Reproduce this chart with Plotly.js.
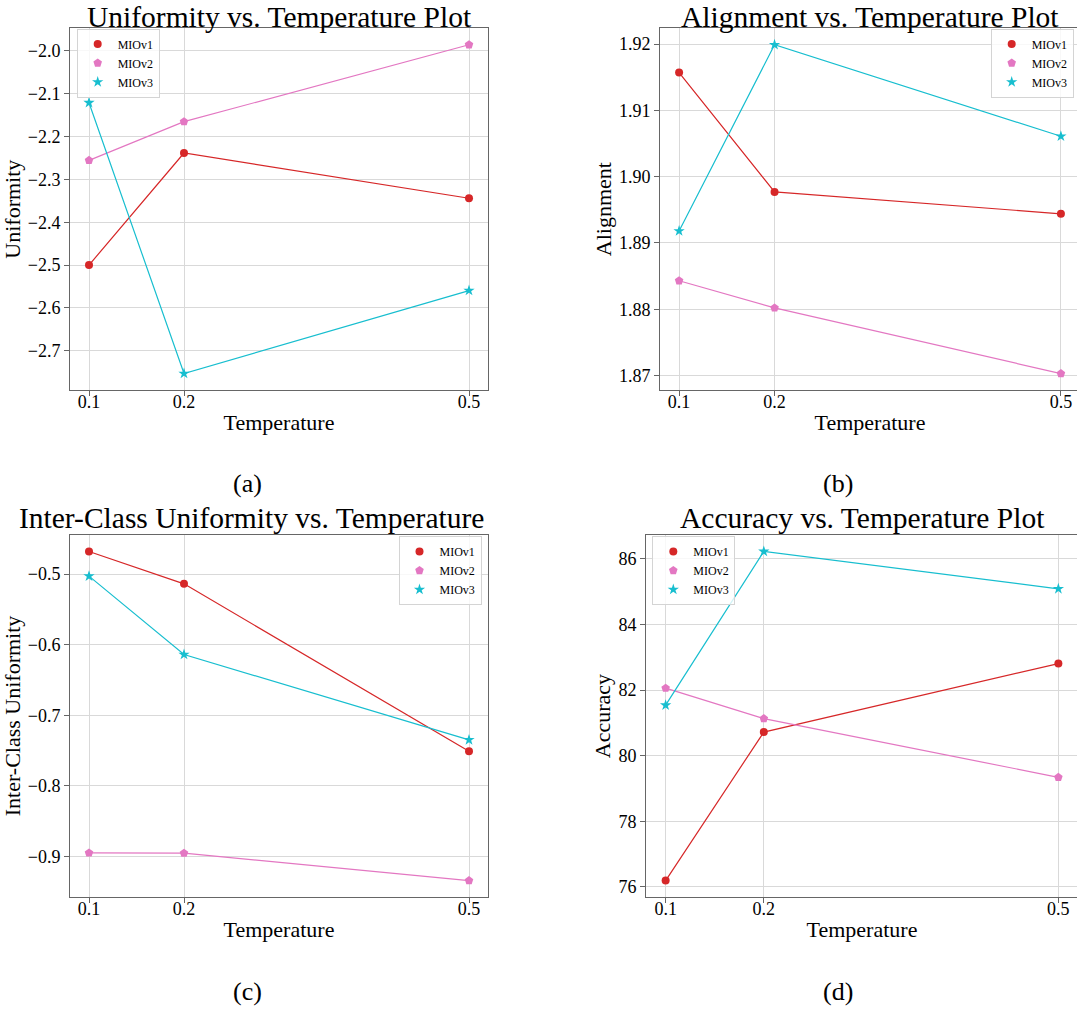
<!DOCTYPE html>
<html>
<head>
<meta charset="utf-8">
<script src="https://cdn.plot.ly/plotly-3.0.1.min.js"></script>
<style>
html, body { margin: 0; padding: 0; overflow: hidden; background: #fff; }
#chart { width: 1090px; height: 1010px; }
</style>
</head>
<body>
<div id="chart"></div>
<script>
// ---------- data ----------
const temperature = [0.1, 0.2, 0.5];
const seriesNames = ['MIOv1', 'MIOv2', 'MIOv3'];

const uniformityV1 = [-2.500, -2.2385, -2.344];
const uniformityV2 = [-2.2556, -2.1655, -1.986];
const uniformityV3 = [-2.1212, -2.753, -2.5594];

const alignmentV1 = [1.9157, 1.8977, 1.8944];
const alignmentV2 = [1.8843, 1.8802, 1.8703];
const alignmentV3 = [1.8918, 1.9199, 1.9061];

const interClassV1 = [-0.4678, -0.5137, -0.7511];
const interClassV2 = [-0.8953, -0.8957, -0.9345];
const interClassV3 = [-0.5028, -0.6139, -0.7350];

const accuracyV1 = [76.19, 80.72, 82.81];
const accuracyV2 = [82.06, 81.13, 79.34];
const accuracyV3 = [81.54, 86.23, 85.09];

// ---------- tick labels ----------
const xTickVals = [0.1, 0.2, 0.5];
const xTickText = ['0.1', '0.2', '0.5'];
const uniformityTickVals = [-2.7, -2.6, -2.5, -2.4, -2.3, -2.2, -2.1, -2.0];
const uniformityTickText = ['\u22122.7', '\u22122.6', '\u22122.5', '\u22122.4', '\u22122.3', '\u22122.2', '\u22122.1', '\u22122.0'];
const alignmentTickVals = [1.87, 1.88, 1.89, 1.90, 1.91, 1.92];
const alignmentTickText = ['1.87', '1.88', '1.89', '1.90', '1.91', '1.92'];
const interClassTickVals = [-0.9, -0.8, -0.7, -0.6, -0.5];
const interClassTickText = ['\u22120.9', '\u22120.8', '\u22120.7', '\u22120.6', '\u22120.5'];
const accuracyTickVals = [76, 78, 80, 82, 84, 86];
const accuracyTickText = ['76', '78', '80', '82', '84', '86'];

const panelTitles = ['Uniformity vs. Temperature Plot', 'Alignment vs. Temperature Plot',
                     'Inter-Class Uniformity vs. Temperature', 'Accuracy vs. Temperature Plot'];
const yTitles = ['Uniformity', 'Alignment', 'Inter-Class Uniformity', 'Accuracy'];
const xTitle = 'Temperature';
const captions = ['(a)', '(b)', '(c)', '(d)'];

// ---------- styling ----------
const W = 1090, H = 1010;
const FONT = 'Liberation Serif, Times New Roman, serif';
const colors = ['#d62728', '#e377c2', '#17becf'];
const symbols = ['circle', 'pentagon', 'star'];
const msizes = [8, 9, 8.5];

// panel boxes in pixels: [left, right, top, bottom]
const boxes = [
  [70, 488, 28.3, 390],
  [660, 1080, 28.3, 390],
  [70, 488, 535, 897],
  [646, 1078, 535, 897]
];
const legendPos = [[76.7, 28.5], [990.7, 28.5], [398.5, 536], [652.3, 536]];
// title positions: [x centre, y, anchor]
const titlePos = [[279, 0, 'top'], [870, 0, 'top'], [251, 518, 'middle'], [862, 518, 'middle']];
const captionPos = [[247, 483], [837.5, 483], [247, 991], [837.5, 991]];

const panels = [
  [uniformityV1, uniformityV2, uniformityV3],
  [alignmentV1, alignmentV2, alignmentV3],
  [interClassV1, interClassV2, interClassV3],
  [accuracyV1, accuracyV2, accuracyV3]
];
const yTicks = [
  [uniformityTickVals, uniformityTickText],
  [alignmentTickVals, alignmentTickText],
  [interClassTickVals, interClassTickText],
  [accuracyTickVals, accuracyTickText]
];

const px = x => x / W;
const py = y => 1 - y / H;

const traces = [];
const layout = {
  width: W, height: H,
  margin: {l: 0, r: 0, t: 0, b: 0},
  paper_bgcolor: '#ffffff',
  plot_bgcolor: '#ffffff',
  font: {family: FONT, color: '#000000'},
  showlegend: true,
  annotations: [],
};

function range5(arr) {
  const lo = Math.min(...arr), hi = Math.max(...arr);
  const pad = (hi - lo) * 0.05;
  return [lo - pad, hi + pad];
}

panels.forEach((series, p) => {
  const n = p + 1;
  const xa = n === 1 ? 'x' : 'x' + n;
  const ya = n === 1 ? 'y' : 'y' + n;
  const leg = n === 1 ? 'legend' : 'legend' + n;
  series.forEach((vals, s) => {
    traces.push({
      type: 'scatter', mode: 'lines', x: temperature, y: vals,
      xaxis: xa, yaxis: ya, showlegend: false, hoverinfo: 'skip',
      line: {color: colors[s], width: 1.2}
    });
  });
  series.forEach((vals, s) => {
    traces.push({
      type: 'scatter', mode: 'markers', x: temperature, y: vals,
      xaxis: xa, yaxis: ya, name: seriesNames[s], legend: leg,
      marker: {color: colors[s], symbol: symbols[s], size: msizes[s], line: {width: 0}}
    });
  });

  const b = boxes[p];
  const axCommon = {
    showline: true, linecolor: '#666666', linewidth: 1, mirror: true,
    showgrid: true, gridcolor: '#d9d9d9', gridwidth: 1,
    zeroline: false,
    ticks: 'outside', ticklen: 5, tickwidth: 1, tickcolor: '#666666',
    tickfont: {family: FONT, size: 18, color: '#000000'},
  };
  layout['xaxis' + (n === 1 ? '' : n)] = Object.assign({}, axCommon, {
    domain: [px(b[0]), px(b[1])],
    anchor: ya,
    range: [0.08, 0.52],
    tickmode: 'array', tickvals: xTickVals, ticktext: xTickText,
    ticklabelstandoff: -10,
    title: {text: xTitle, font: {family: FONT, size: 22, color: '#000'}, standoff: 4}
  });
  const allVals = [].concat(...series);
  layout['yaxis' + (n === 1 ? '' : n)] = Object.assign({}, axCommon, {
    domain: [py(b[3]), py(b[2])],
    anchor: xa,
    range: range5(allVals),
    tickmode: 'array', tickvals: yTicks[p][0], ticktext: yTicks[p][1],
    title: {text: yTitles[p], font: {family: FONT, size: 22, color: '#000'}, standoff: 1}
  });

  layout[leg] = {
    x: px(legendPos[p][0]), y: py(legendPos[p][1]),
    xanchor: 'left', yanchor: 'top',
    xref: 'paper', yref: 'paper',
    bgcolor: 'rgba(255,255,255,0.8)', bordercolor: '#d4d4d4', borderwidth: 1,
    font: {family: FONT, size: 12, color: '#000'},
    tracegroupgap: 0, itemwidth: 30
  };

  layout.annotations.push({
    text: panelTitles[p], showarrow: false,
    xref: 'paper', yref: 'paper',
    x: px(titlePos[p][0]), y: py(titlePos[p][1]),
    xanchor: 'center', yanchor: titlePos[p][2], borderpad: 0,
    font: {family: FONT, size: 29.5, color: '#000'}
  });
  layout.annotations.push({
    text: captions[p], showarrow: false,
    xref: 'paper', yref: 'paper',
    x: px(captionPos[p][0]), y: py(captionPos[p][1]),
    xanchor: 'center', yanchor: 'middle',
    font: {family: FONT, size: 26, color: '#000'}
  });
});

Plotly.newPlot('chart', traces, layout, {displayModeBar: false, staticPlot: true});
</script>
</body>
</html>
